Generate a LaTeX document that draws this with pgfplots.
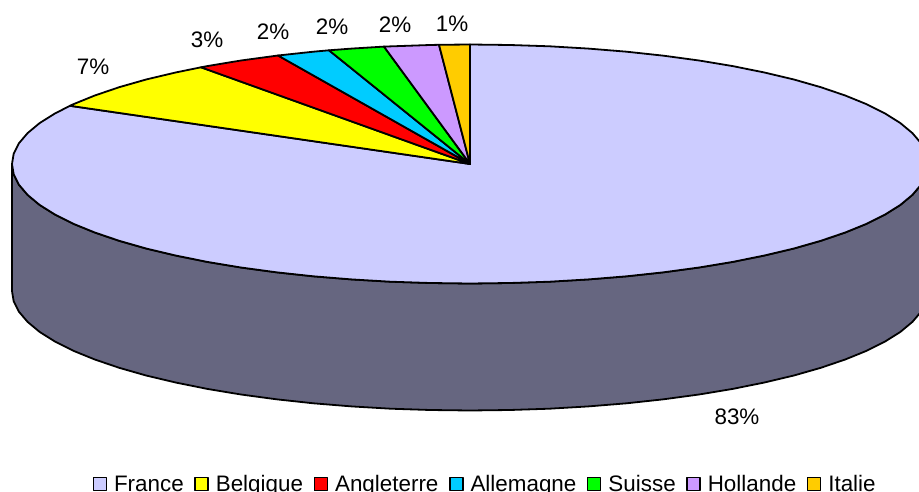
\documentclass[border=0pt]{standalone}
\usepackage{fontspec}
\setmainfont{Liberation Sans}
\usepackage{pgfplots}
\pgfplotsset{compat=1.18}
\definecolor{france}{HTML}{CCCCFF}
\definecolor{belgique}{HTML}{FFFF00}
\definecolor{angleterre}{HTML}{FF0000}
\definecolor{allemagne}{HTML}{00CCFF}
\definecolor{suisse}{HTML}{00FF00}
\definecolor{hollande}{HTML}{CC99FF}
\definecolor{italie}{HTML}{FFCC00}
\definecolor{cote}{HTML}{666680}
\begin{document}
\begin{tikzpicture}
  \begin{axis}[
    at={(0pt,0pt)}, anchor=south west,
    scale only axis,
    width=919pt, height=492pt,
    xmin=0, xmax=919, ymin=0, ymax=492,
    y dir=reverse,
    hide axis,
    every axis plot/.append style={draw=black, line width=1.8pt, line join=round},
    legend columns=-1,
    legend cell align=left,
    legend image code/.code={
      \path[#1, line width=1.5pt] (0pt,-5pt) rectangle (13pt,8pt);
    },
    legend style={
      at={(axis cs:92.5,475)}, anchor=north west,
      draw=none, fill=none, inner sep=0pt, outer sep=0pt,
      font=\fontsize{22.4}{26}\selectfont,
      nodes={inner sep=0pt, outer sep=0pt, text height=16pt, text depth=5pt},
      /tikz/every even column/.style={column sep=10.6pt},
      /tikz/every odd column/.style={column sep=7pt},
    },
  ]
  % epaisseur du camembert
  \addplot[fill=cote, forget plot] coordinates {
    (928,164) (926.3,174.4) (921,184.8) (912.4,194.9) (900.4,204.9) (885.1,214.5)
    (866.6,223.8) (845.2,232.5) (820.8,240.8) (793.9,248.5) (764.4,255.5) (732.7,261.9)
    (699,267.5) (663.6,272.3) (626.6,276.3) (588.5,279.4) (549.5,281.7) (509.9,283)
    (470,283.5) (430.1,283) (390.5,281.7) (351.5,279.4) (313.4,276.3) (276.4,272.3)
    (241,267.5) (207.3,261.9) (175.6,255.5) (146.1,248.5) (119.2,240.8) (94.8,232.5)
    (73.4,223.8) (54.9,214.5) (39.6,204.9) (27.6,194.9) (19,184.8) (13.7,174.4) (12,164)
    (12,291) (13.7,301.4) (19,311.8) (27.6,321.9) (39.6,331.9) (54.9,341.5)
    (73.4,350.8) (94.8,359.5) (119.2,367.8) (146.1,375.5) (175.6,382.5) (207.3,388.9)
    (241,394.5) (276.4,399.3) (313.4,403.3) (351.5,406.4) (390.5,408.7) (430.1,410)
    (470,410.5) (509.9,410) (549.5,408.7) (588.5,406.4) (626.6,403.3) (663.6,399.3)
    (699,394.5) (732.7,388.9) (764.4,382.5) (793.9,375.5) (820.8,367.8) (845.2,359.5)
    (866.6,350.8) (885.1,341.5) (900.4,331.9) (912.4,321.9) (921,311.8) (926.3,301.4) (928,291)
  } -- cycle;
  % parts
  \addplot[fill=france] coordinates {
    (470,164) (470,44.5) (509.9,45) (549.5,46.3) (588.5,48.6) (626.6,51.7) (663.6,55.7)
    (699,60.5) (732.7,66.1) (764.4,72.5) (793.9,79.5) (820.8,87.2) (845.2,95.5)
    (866.6,104.2) (885.1,113.5) (900.4,123.1) (912.4,133.1) (921,143.2) (926.3,153.6)
    (928,164) (926.3,174.4) (921,184.8) (912.4,194.9) (900.4,204.9) (885.1,214.5)
    (866.6,223.8) (845.2,232.5) (820.8,240.8) (793.9,248.5) (764.4,255.5) (732.7,261.9)
    (699,267.5) (663.6,272.3) (626.6,276.3) (588.5,279.4) (549.5,281.7) (509.9,283)
    (470,283.5) (430.1,283) (390.5,281.7) (351.5,279.4) (313.4,276.3) (276.4,272.3)
    (241,267.5) (207.3,261.9) (175.6,255.5) (146.1,248.5) (119.2,240.8) (94.8,232.5)
    (73.4,223.8) (54.9,214.5) (39.6,204.9) (27.6,194.9) (19,184.8) (13.7,174.4) (12,164)
    (13.7,153.6) (19,143.2) (27.6,133.1) (39.6,123.1) (54.9,113.5) (70,105.8)
  } -- cycle;
  \addplot[fill=belgique] coordinates {
    (470,164) (70,105.8) (73.4,104.2) (94.8,95.5) (119.2,87.2) (146.1,79.5) (175.6,72.5) (201,67.3)
  } -- cycle;
  \addplot[fill=angleterre] coordinates {
    (470,164) (201,67.3) (207.3,66.1) (241,60.5) (278,55.5)
  } -- cycle;
  \addplot[fill=allemagne] coordinates {
    (470,164) (278,55.5) (313.4,51.7) (329,50.3)
  } -- cycle;
  \addplot[fill=suisse] coordinates {
    (470,164) (329,50.3) (351.5,48.6) (384,46.6)
  } -- cycle;
  \addplot[fill=hollande] coordinates {
    (470,164) (384,46.6) (430.1,45) (439,44.8)
  } -- cycle;
  \addplot[fill=italie] coordinates {
    (470,164) (439,44.8) (470,44.5)
  } -- cycle;
  \legend{France,Belgique,Angleterre,Allemagne,Suisse,Hollande,Italie}

  \begin{scope}[every node/.style={font=\fontsize{22.4}{26}\selectfont, inner sep=0pt}]
    \node at (axis cs:93,67) {7\%};
    \node at (axis cs:207,40) {3\%};
    \node at (axis cs:273,32) {2\%};
    \node at (axis cs:332,27) {2\%};
    \node at (axis cs:395,25) {2\%};
    \node at (axis cs:452,24) {1\%};
    \node at (axis cs:737,417) {83\%};
  \end{scope}
  \end{axis}
  % la legende est coupee au bas de l'image
  \pgfresetboundingbox
  \path[use as bounding box] (0pt,0pt) rectangle (919pt,492pt);
\end{tikzpicture}
\end{document}
